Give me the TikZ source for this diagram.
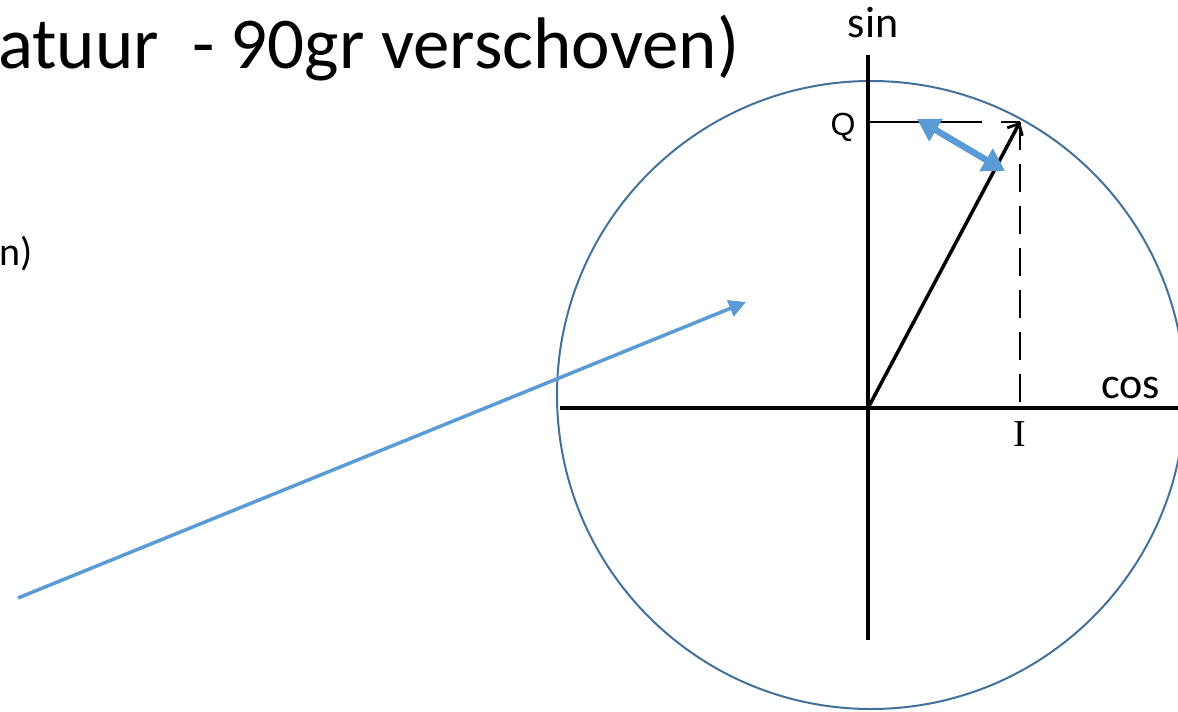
\documentclass[tikz,border=0pt]{standalone}
\usepackage{fontspec}
\setmainfont{Carlito}
\newfontfamily\sansQ{Liberation Sans}
\newfontfamily\serifI{Liberation Serif}
\usetikzlibrary{arrows.meta, positioning}
\definecolor{iqblue}{RGB}{91,155,213}
\definecolor{iqring}{RGB}{65,113,156}
\tikzset{
  kop/.style={inner sep=0pt, font=\fontsize{73}{80}\selectfont},
  axlabel/.style={inner sep=0pt, font=\fontsize{44}{50}\selectfont},
  pointlabel/.style={inner sep=0pt},
  axisline/.style={line width=4pt, draw=black},
  vecline/.style={line width=3.5pt, draw=black, -{Straight Barb[length=9pt,width=17pt,line width=2.8pt]}},
  projline/.style={line width=2pt, draw=black},
  ring/.style={line width=2pt, draw=iqring},
  shiftarrow/.style={line width=6.5pt, draw=iqblue, {Triangle[length=22pt,width=25pt]}-{Triangle[length=22pt,width=25pt]}},
  pointer/.style={line width=3.5pt, draw=iqblue, -{Triangle[length=17pt,width=17pt]}}
}

\begin{document}
\begin{tikzpicture}[x=1pt, y=-1pt]
\useasboundingbox (0,0) rectangle (1178,712);

% texts
\node[kop, anchor=base west] (titel) at (-2,68) {atuur\ \ - 90gr verschoven)};
\node[inner sep=0pt, font=\fontsize{40}{44}\selectfont, anchor=base west] (rest) at (-1,265) {n)};
\node[axlabel, anchor=base] (sinlbl) at (873,37) {sin};
\node[axlabel, anchor=base west] (coslbl) at (1101,398) {cos};
\node[pointlabel, anchor=base, font=\sansQ\fontsize{32}{34}\selectfont] (qlbl) at (843,135) {Q};
\node[pointlabel, anchor=base, font=\serifI\fontsize{38}{40}\selectfont] (ilbl) at (1020,446) {I};

% points
\coordinate (C) at (871,395);
\coordinate (O) at (868,408);
\coordinate (ytop) at (868,55);
\coordinate (ybot) at (868,640);
\coordinate (xleft) at (560,408);
\coordinate (xright) at (1178,408);
\coordinate (P) at (1020,122);
\coordinate (Pq) at (868,122);
\coordinate (Pi) at (1020,408);
\coordinate (da) at (917,119);
\coordinate (db) at (1005,171);
\coordinate (la) at (18,598);
\coordinate (lb) at (746,302);

% circle and axes
\draw[ring] (C) circle[radius=314pt];
\draw[axisline] (ytop) -- (ybot);
\draw[axisline] (xleft) -- (xright);

% projections
\draw[projline, dash pattern=on 114pt off 19pt on 30pt] (Pq) -- (P);
\draw[projline, dash pattern=on 28pt off 14pt] (P) -- (Pi);

% vector
\draw[vecline] (O) -- (P);

% blue arrows
\draw[shiftarrow] (da) -- (db);
\draw[pointer] (la) -- (lb);

\end{tikzpicture}
\end{document}
